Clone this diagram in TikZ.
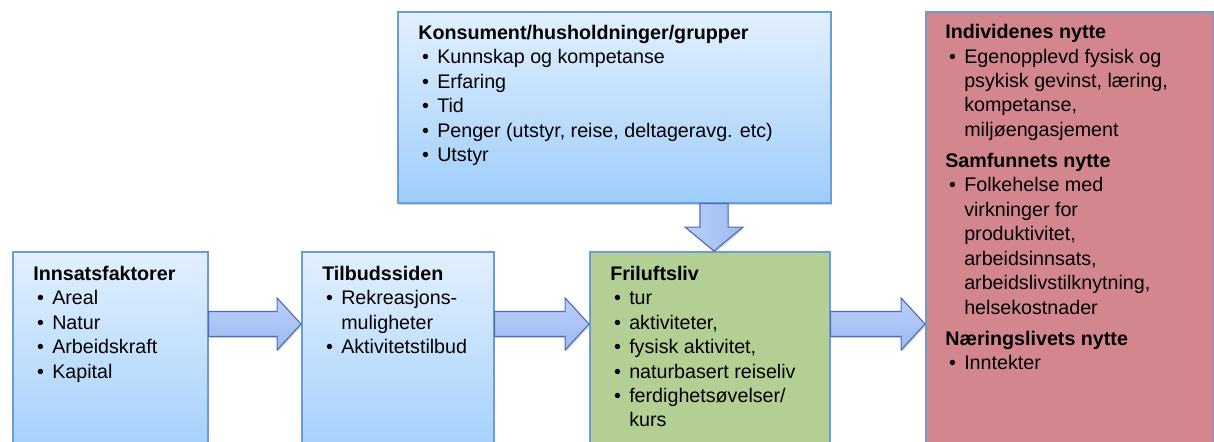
\documentclass[tikz,border=0pt]{standalone}
\usepackage{fontspec}
\setmainfont{Liberation Sans}
\usetikzlibrary{calc,shadows}
\definecolor{bordblue}{HTML}{6A9DD6}
\definecolor{bluetop}{HTML}{E2F0FE}
\definecolor{bluebot}{HTML}{9ECDFB}
\definecolor{greenfill}{HTML}{B3CF93}
\definecolor{redfill}{HTML}{D4868F}
\definecolor{arrowtop}{HTML}{B9D0F8}
\definecolor{arrowbot}{HTML}{9DB9F0}
\definecolor{arrowline}{HTML}{4E6CB6}
\newcommand{\hdline}[1]{\textbf{#1}}
\newcommand{\bitem}[1]{\hspace*{2.8pt}\makebox[10.7pt][l]{\textbullet}#1}
\newcommand{\contline}[1]{\hspace*{13.5pt}#1}
\tikzset{
  boxbase/.style={draw=bordblue, line width=1.1pt, anchor=north west, inner sep=0pt,
    drop shadow={opacity=0.35, shadow xshift=1pt, shadow yshift=-1.5pt}},
  bluebox/.style={boxbase, top color=bluetop, bottom color=bluebot},
  greenbox/.style={boxbase, fill=greenfill},
  redbox/.style={boxbase, fill=redfill},
  boxtext/.style={anchor=north west, align=left, inner sep=0pt,
    font=\fontsize{14}{17.4}\selectfont},
  fatright/.style={draw=arrowline, line width=0.8pt, top color=arrowtop, bottom color=arrowbot,
    drop shadow={opacity=0.3, shadow xshift=0.8pt, shadow yshift=-1.2pt},
    to path={let \p1=(\tikztostart), \p2=(\tikztotarget) in
      (\x1,\y1+8.9pt) -- (\x2-17pt,\y1+8.9pt) -- (\x2-17pt,\y1+18.5pt) -- (\x2,\y1)
      -- (\x2-17pt,\y1-18.5pt) -- (\x2-17pt,\y1-8.9pt) -- (\x1,\y1-8.9pt) -- cycle}},
  fatdown/.style={draw=arrowline, line width=0.8pt, left color=arrowtop, right color=arrowbot,
    drop shadow={opacity=0.3, shadow xshift=0.8pt, shadow yshift=-1.2pt},
    to path={let \p1=(\tikztostart), \p2=(\tikztotarget) in
      (\x1-10pt,\y1) -- (\x1-10pt,\y2+17pt) -- (\x1-20.6pt,\y2+17pt) -- (\x1,\y2)
      -- (\x1+20.6pt,\y2+17pt) -- (\x1+10pt,\y2+17pt) -- (\x1+10pt,\y1) -- cycle}},
}
\begin{document}
\begin{tikzpicture}[x=0.025cm, y=-0.025cm]
\useasboundingbox (0,0) rectangle (1214,441);
\clip (0,0) rectangle (1214,441);
\fill[white] (0,0) rectangle (1214,441);

% boxes
\node[bluebox, minimum width=4.875cm, minimum height=5.475cm] (b1) at (12,251) {};
\node[bluebox, minimum width=4.8cm, minimum height=5.475cm] (b2) at (301,251) {};
\node[greenbox, minimum width=6cm, minimum height=5.475cm] (b3) at (589,251) {};
\node[bluebox, minimum width=10.825cm, minimum height=4.775cm] (b4) at (397,11) {};
\node[redbox, minimum width=7.2cm, minimum height=11.475cm] (b5) at (925,11) {};

% texts
\node[boxtext] (t1) at (33,265.6) {\hdline{Innsatsfaktorer}\\
  \bitem{Areal}\\ \bitem{Natur}\\ \bitem{Arbeidskraft}\\ \bitem{Kapital}};
\node[boxtext] (t2) at (322,265.6) {\hdline{Tilbudssiden}\\
  \bitem{Rekreasjons-}\\ \contline{muligheter}\\ \bitem{Aktivitetstilbud}};
\node[boxtext] (t3) at (610,265.6) {\hdline{Friluftsliv}\\
  \bitem{tur}\\ \bitem{aktiviteter,}\\ \bitem{fysisk aktivitet,}\\
  \bitem{naturbasert reiseliv}\\ \bitem{ferdighetsøvelser/}\\ \contline{kurs}};
\node[boxtext] (t4) at (418,24.6) {\hdline{Konsument/husholdninger/grupper}\\
  \bitem{Kunnskap og kompetanse}\\ \bitem{Erfaring}\\ \bitem{Tid}\\
  \bitem{Penger (utstyr, reise, deltageravg. etc)}\\ \bitem{Utstyr}};
\node[boxtext] (t5) at (945,24) {\hdline{Individenes nytte}\\
  \bitem{Egenopplevd fysisk og}\\ \contline{psykisk gevinst, læring,}\\
  \contline{kompetanse,}\\ \contline{miljøengasjement}\\[4.6pt]
  \hdline{Samfunnets nytte}\\
  \bitem{Folkehelse med}\\ \contline{virkninger for}\\ \contline{produktivitet,}\\
  \contline{arbeidsinnsats,}\\ \contline{arbeidslivstilknytning,}\\ \contline{helsekostnader}\\[4.6pt]
  \hdline{Næringslivets nytte}\\
  \bitem{Inntekter}};

% arrows
\coordinate (ay) at (0,324);
\coordinate (ax) at (714,0);
\path[fatright] (b1.east |- ay) to (b2.west |- ay);
\path[fatright] (b2.east |- ay) to (b3.west |- ay);
\path[fatright] (b3.east |- ay) to (b5.west |- ay);
\path[fatdown] (b4.south -| ax) to (b3.north -| ax);
\end{tikzpicture}
\end{document}
